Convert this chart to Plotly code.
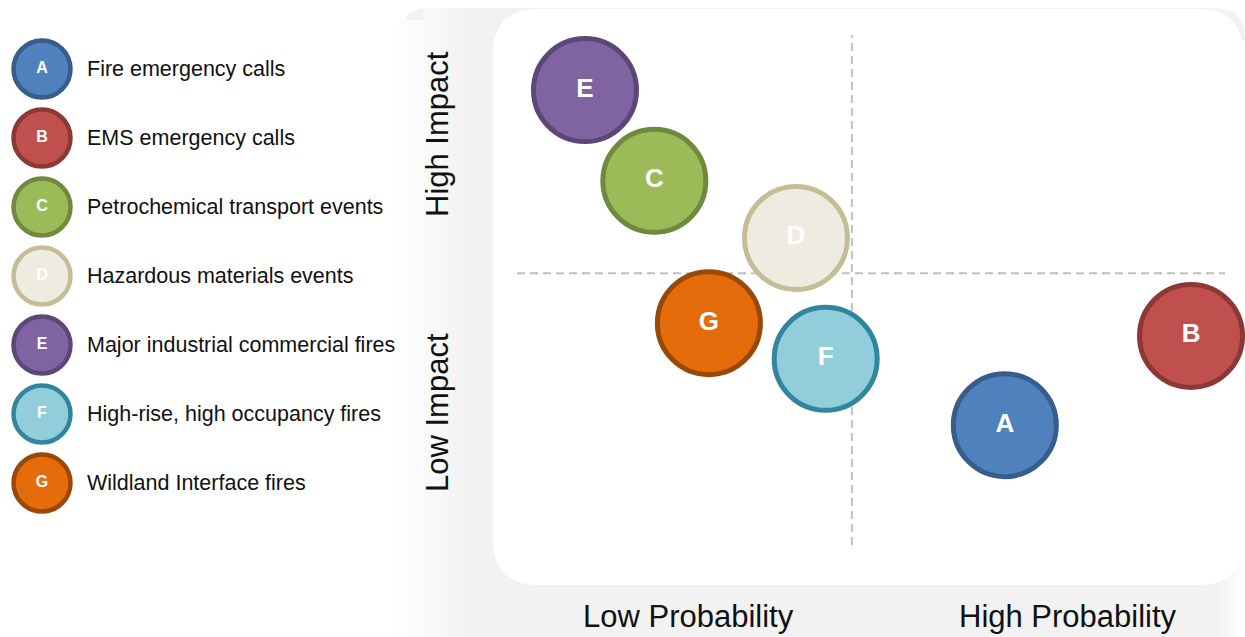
import plotly.graph_objects as go

W, H = 1245, 637

# ---------------- data ----------------
codes = ["A", "B", "C", "D", "E", "F", "G"]
labels = [
    "Fire emergency calls",
    "EMS emergency calls",
    "Petrochemical transport events",
    "Hazardous materials events",
    "Major industrial commercial fires",
    "High-rise, high occupancy fires",
    "Wildland Interface fires",
]
probability = [68.9, 95.2, 19.4, 39.4, 9.6, 43.6, 27.1]   # 0-100 scale
impact = [23.5, 41.0, 71.4, 60.2, 89.2, 36.5, 43.5]       # 0-100 scale
prob_threshold = 47.3
impact_threshold = 53.3
fill_colors = ["#4F81BD", "#C0504D", "#9BBB59", "#EEECE1", "#8064A2", "#92CDDC", "#E46C0A"]
line_colors = ["#385D8A", "#8C3836", "#71893F", "#C4BD97", "#5C4776", "#31859C", "#984807"]
legend_rows = list(range(len(codes)))

axis_titles = {"high_impact": "High Impact", "low_impact": "Low Impact",
               "low_prob": "Low Probability", "high_prob": "High Probability"}

FONT = "Liberation Sans"


def px(x):
    return x / W


def py(y):
    return 1 - y / H


def rounded_rect(x0, y0, x1, y1, r):
    rx, ry = r / W, r / H
    X0, X1 = px(x0), px(x1)
    Y0, Y1 = py(y0), py(y1)  # Y0 top (larger), Y1 bottom
    return (f"M {X0+rx},{Y0} L {X1-rx},{Y0} Q {X1},{Y0} {X1},{Y0-ry} "
            f"L {X1},{Y1+ry} Q {X1},{Y1} {X1-rx},{Y1} "
            f"L {X0+rx},{Y1} Q {X0},{Y1} {X0},{Y1+ry} "
            f"L {X0},{Y0-ry} Q {X0},{Y0} {X0+rx},{Y0} Z")


fig = go.Figure()

# main bubbles
fig.add_trace(go.Scatter(
    x=probability, y=impact, mode="markers+text",
    text=[f"<b>{c}</b>" for c in codes], textposition="middle center",
    textfont=dict(family=FONT, size=26, color="white"),
    marker=dict(size=103, color=fill_colors, line=dict(color=line_colors, width=5), opacity=1),
    cliponaxis=False, hoverinfo="skip", showlegend=False,
    xaxis="x", yaxis="y",
))

# legend bubbles
fig.add_trace(go.Scatter(
    x=[0.1] * len(codes), y=legend_rows, mode="markers+text",
    text=[f"<b>{c}</b>" for c in codes], textposition="middle center",
    textfont=dict(family=FONT, size=16, color="white"),
    marker=dict(size=57, color=fill_colors, line=dict(color=line_colors, width=4.5), opacity=1),
    cliponaxis=False, hoverinfo="skip", showlegend=False,
    xaxis="x2", yaxis="y2",
))

annotations = []
for r, lab in zip(legend_rows, labels):
    annotations.append(dict(
        x=85 / 420, y=r, xref="x2", yref="y2", text=lab, showarrow=False,
        xanchor="left", yanchor="middle",
        font=dict(family=FONT, size=21.5, color="#111111"),
    ))

title_font = dict(family=FONT, size=31, color="#111111")
annotations += [
    dict(x=px(437), y=py(134), xref="paper", yref="paper", text=axis_titles["high_impact"],
         textangle=-90, showarrow=False, xanchor="center", yanchor="middle", font=title_font),
    dict(x=px(437), y=py(413), xref="paper", yref="paper", text=axis_titles["low_impact"],
         textangle=-90, showarrow=False, xanchor="center", yanchor="middle", font=title_font),
    dict(x=px(688), y=py(616), xref="paper", yref="paper", text=axis_titles["low_prob"],
         showarrow=False, xanchor="center", yanchor="middle", font=title_font),
    dict(x=px(1068), y=py(616), xref="paper", yref="paper", text=axis_titles["high_prob"],
         showarrow=False, xanchor="center", yanchor="middle", font=title_font),
]

shapes = []
# gray backdrop
shapes.append(dict(type="path", path=rounded_rect(400, 8, 1245, 660, 30), xref="paper", yref="paper",
                   fillcolor="#f2f2f2", line=dict(width=0), layer="below"))
# left fade
n = 14
for i in range(n):
    x0 = 398 + i * 5
    g = int(255 - (255 - 242) * (i + 0.5) / n)
    top = 8 if x0 >= 420 else 20
    shapes.append(dict(type="rect", x0=px(x0), x1=px(x0 + 5), y0=py(660), y1=py(top),
                       xref="paper", yref="paper", fillcolor=f"rgb({g},{g},{g})",
                       line=dict(width=0), layer="below"))
# right fade
for i in range(6):
    x0 = 1215 + i * 5
    g = int(242 + (255 - 242) * (i + 0.5) / 6)
    shapes.append(dict(type="rect", x0=px(x0), x1=px(x0 + 5), y0=py(660), y1=py(40),
                       xref="paper", yref="paper", fillcolor=f"rgb({g},{g},{g})",
                       line=dict(width=0), layer="below"))
# white panel
shapes.append(dict(type="path", path=rounded_rect(493, 9, 1243, 585, 45), xref="paper", yref="paper",
                   fillcolor="white", line=dict(width=0), layer="below"))
# divider lines
shapes.append(dict(type="line", x0=prob_threshold, x1=prob_threshold, y0=0, y1=100,
                   xref="x", yref="y", line=dict(color="#c0c0c0", width=2, dash="8px,5px"), layer="below"))
shapes.append(dict(type="line", x0=0, x1=100, y0=impact_threshold, y1=impact_threshold,
                   xref="x", yref="y", line=dict(color="#c0c0c0", width=2, dash="8px,5px"), layer="below"))

# axis ranges so that probability 0..100 spans px 517..1225, impact 0..100 spans px 545..35
sx = (1225 - 517) / 100
sy = (545 - 35) / 100
x_range = [-517 / sx, (W - 517) / sx]
y_range = [(545 - H) / sy, 545 / sy]

hidden = dict(showgrid=False, zeroline=False, showticklabels=False, ticks="", showline=False, fixedrange=True)

fig.update_layout(
    width=W, height=H, margin=dict(l=0, r=0, t=0, b=0),
    paper_bgcolor="white", plot_bgcolor="rgba(0,0,0,0)",
    xaxis=dict(domain=[0, 1], range=x_range, anchor="y", **hidden),
    yaxis=dict(domain=[0, 1], range=y_range, anchor="x", **hidden),
    xaxis2=dict(domain=[0, 420 / W], range=[0.0, 1.0], anchor="y2", **hidden),
    yaxis2=dict(domain=[0, 1], range=[(H - 69) / 69, -1.0], anchor="x2", **hidden),
    shapes=shapes, annotations=annotations, showlegend=False,
)

fig.write_html("out.html")
